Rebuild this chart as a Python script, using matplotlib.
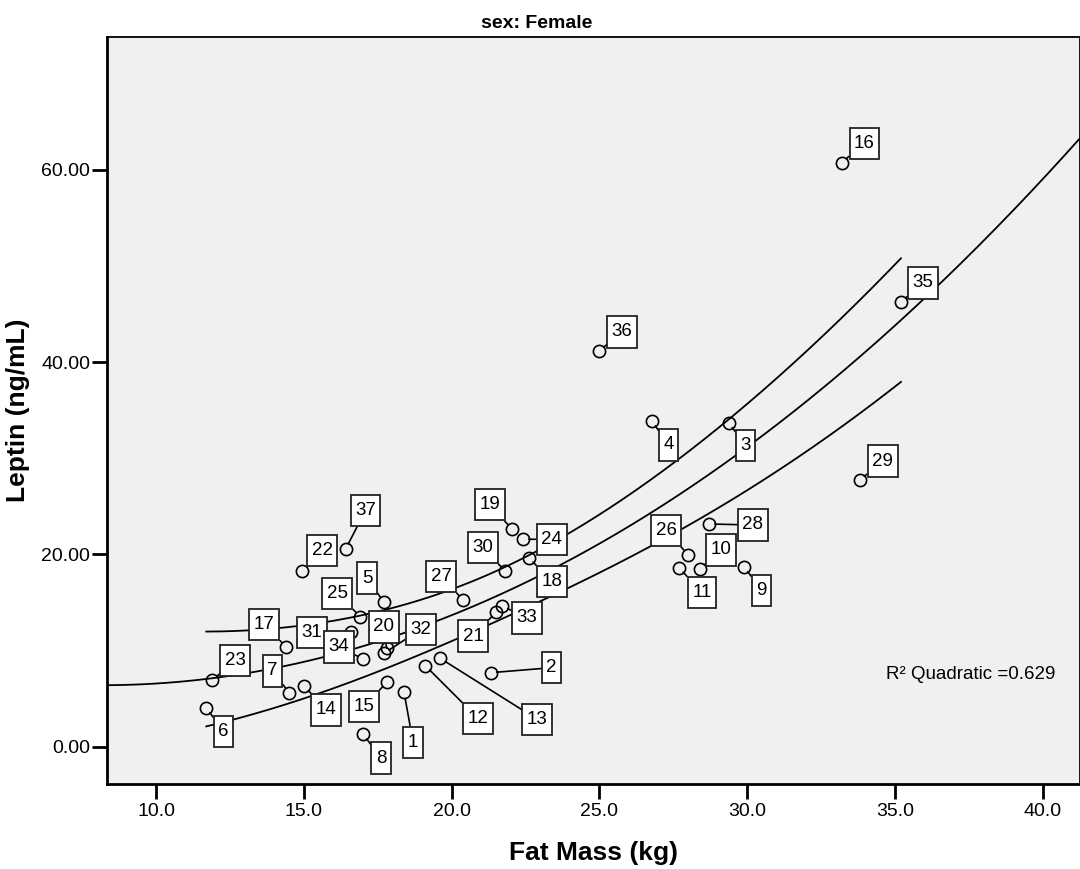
import numpy as np
import matplotlib
matplotlib.use("Agg")
import matplotlib.pyplot as plt
from matplotlib.path import Path

plt.rcParams['font.family'] = ['Liberation Sans', 'DejaVu Sans']

# ---- data (case id, fat mass kg, leptin ng/mL) ----
case_ids = list(range(1, 38))
fat_mass = [18.39, 21.32, 29.37, 26.77, 17.71, 11.70, 14.51, 17.00, 29.90, 28.40,
            27.69, 19.11, 19.61, 15.01, 17.81, 33.19, 14.41, 22.61, 22.03, 17.80,
            21.50, 14.95, 11.90, 22.40, 16.91, 28.00, 20.40, 28.70, 33.80, 21.80,
            16.59, 17.71, 21.71, 17.00, 35.20, 24.99, 16.41]
leptin = [5.66, 7.70, 33.71, 33.89, 15.03, 4.06, 5.59, 1.32, 18.73, 18.49,
          18.63, 8.43, 9.20, 6.32, 6.70, 60.77, 10.34, 19.67, 22.68, 10.27,
          13.99, 18.31, 6.91, 21.58, 13.53, 19.98, 15.21, 23.17, 27.72, 18.31,
          11.90, 9.72, 14.64, 9.13, 46.27, 41.18, 20.54]
x_ticks = [10.0, 15.0, 20.0, 25.0, 30.0, 35.0, 40.0]
y_ticks = [0.0, 20.0, 40.0, 60.0]
r2_text = "R\u00b2 Quadratic =0.629"

# ---- label offsets (pixels, from point to label centre) ----
label_offsets = {
    1: (9, -50), 2: (61, 5), 3: (17, -23), 4: (17, -24), 5: (-17, 24),
    6: (17, -24), 7: (-17, 22), 8: (18, -24), 9: (17, -24), 10: (21, 19),
    11: (23, -25), 12: (53, -53), 13: (97, -61), 14: (22, -24), 15: (-23, -24),
    16: (23, 19), 17: (-22, 23), 18: (23, -24), 19: (-22, 24), 20: (-3, 21),
    21: (-23, -24), 22: (20, 20), 23: (23, 20), 24: (29, 0), 25: (-23, 23),
    26: (-22, 24), 27: (-22, 24), 28: (44, -1), 29: (23, 19), 30: (-22, 23),
    31: (-39, 0), 32: (37, 24), 33: (25, -12), 34: (-24, 12), 35: (22, 19),
    36: (23, 19), 37: (20, 39),
}


def label_box(x0, y0, width, height, mutation_size):
    padx = 0.24 * mutation_size
    h = 1.68 * mutation_size
    cy = y0 + height / 2.0
    xa, xb = x0 - padx, x0 + width + padx
    ya, yb = cy - h / 2.0, cy + h / 2.0
    return Path([(xa, ya), (xb, ya), (xb, yb), (xa, yb), (xa, ya)], closed=True)


x = np.array(fat_mass)
y = np.array(leptin)
n = len(x)

fig = plt.figure(figsize=(10.8, 8.69), dpi=100)
fig.patch.set_facecolor('white')
ax = fig.add_axes([106.7 / 1080, 1 - 784 / 869, (1079.5 - 106.7) / 1080, (784 - 37.3) / 869])
ax.set_facecolor('#F0F0F0')

xlim = (8.33, 41.24)
ylim = (-3.88, 73.8)
ax.set_xlim(*xlim)
ax.set_ylim(*ylim)

# ---- quadratic fit and 95% CI for mean (SPSS-style band) ----
X = np.column_stack([np.ones(n), x, x ** 2])
beta, *_ = np.linalg.lstsq(X, y, rcond=None)
resid = y - X @ beta
s = np.sqrt(np.sum(resid ** 2) / (n - 3))
xbar = x.mean()
sxx = np.sum((x - xbar) ** 2)
t_crit = 2.032  # t(0.975, df=34)

xf = np.linspace(xlim[0], xlim[1], 400)
ax.plot(xf, beta[0] + beta[1] * xf + beta[2] * xf ** 2, color='black', lw=1.3, zorder=2)

xc = np.linspace(x.min(), x.max(), 400)
fc = beta[0] + beta[1] * xc + beta[2] * xc ** 2
se = s * np.sqrt(1.0 / n + (xc - xbar) ** 2 / sxx)
ax.plot(xc, fc + t_crit * se, color='black', lw=1.3, zorder=2)
ax.plot(xc, fc - t_crit * se, color='black', lw=1.3, zorder=2)

# ---- points ----
ax.plot(x, y, linestyle='none', marker='o', markersize=8.8, markerfacecolor='none',
        markeredgecolor='black', markeredgewidth=1.2, zorder=3)

for cid, xi, yi in zip(case_ids, fat_mass, leptin):
    dx, dy = label_offsets[cid]
    ax.annotate(str(cid), xy=(xi, yi), xytext=(dx, dy), textcoords='offset pixels',
                ha='center', va='center', fontsize=13.5, color='black',
                bbox=dict(boxstyle=label_box, facecolor='white',
                          edgecolor='#222222', linewidth=1.3),
                arrowprops=dict(arrowstyle='-', color='black', lw=1.2,
                                shrinkA=0, shrinkB=4.4),
                zorder=4)

# ---- R^2 text ----
ax.text(0.975, 0.147, r2_text, transform=ax.transAxes, ha='right', va='center',
        fontsize=13.5)

# ---- axes styling ----
ax.set_xticks(x_ticks)
ax.set_xticklabels([f"{v:.1f}" for v in x_ticks])
ax.set_yticks(y_ticks)
ax.set_yticklabels([f"{v:.2f}" for v in y_ticks])
ax.tick_params(axis='both', direction='out', length=11, width=2, labelsize=14,
               color='black')
ax.tick_params(axis='y', pad=0.8)
ax.tick_params(axis='x', pad=3)
for side in ['left', 'bottom']:
    ax.spines[side].set_linewidth(2)
for side in ['top', 'right']:
    ax.spines[side].set_linewidth(1.3)

ax.set_xlabel('Fat Mass (kg)', fontsize=19, fontweight='bold', labelpad=15)
ax.set_ylabel('Leptin (ng/mL)', fontsize=19, fontweight='bold', labelpad=8)
fig.text(0.497, 1 - 24 / 869, 'sex: Female', fontsize=14, fontweight='bold',
         ha='center', va='center')

fig.savefig('out.png', dpi=100, facecolor='white')
